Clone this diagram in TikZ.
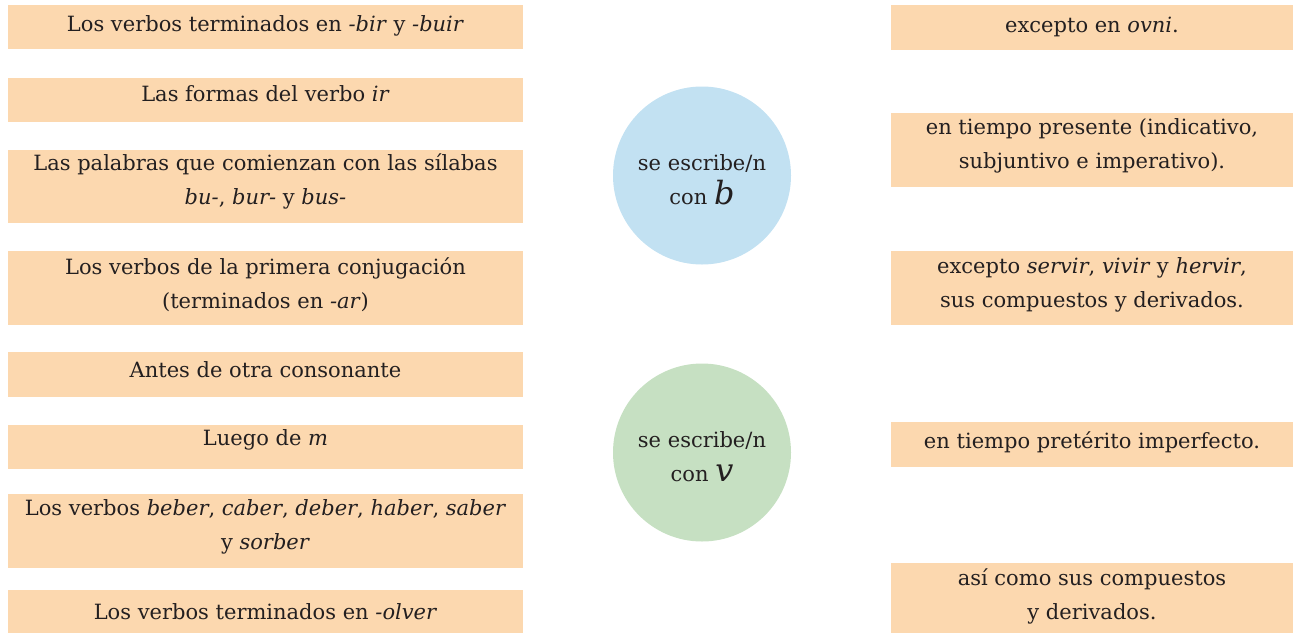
\documentclass[tikz,border=0pt]{standalone}
\usepackage{fontspec}
\setmainfont{DejaVu Serif}
\definecolor{peach}{HTML}{FCD8AF}
\definecolor{cblue}{HTML}{C2E1F2}
\definecolor{cgreen}{HTML}{C6E0C2}
\definecolor{ink}{HTML}{231F20}
\begin{document}
\begin{tikzpicture}[x=1pt,y=-1pt,
  lbox/.style={fill=peach,draw=none,minimum width=515pt,inner sep=0pt},
  rbox/.style={fill=peach,draw=none,minimum width=402pt,inner sep=0pt},
  circ/.style={circle,draw=none,minimum size=178pt,inner sep=0pt},
  txt/.style={inner sep=0pt,align=center,font=\fontsize{21}{34}\selectfont,text=ink}]
\useasboundingbox (0,0) rectangle (1293,633);
% left boxes
\node[lbox,minimum height=44pt] (l1) at (265.5,27) {};
\node[lbox,minimum height=44pt] (l2) at (265.5,100) {};
\node[lbox,minimum height=73pt] (l3) at (265.5,186.5) {};
\node[lbox,minimum height=74pt] (l4) at (265.5,288) {};
\node[lbox,minimum height=45pt] (l5) at (265.5,374.5) {};
\node[lbox,minimum height=44pt] (l6) at (265.5,447) {};
\node[lbox,minimum height=74pt] (l7) at (265.5,531) {};
\node[lbox,minimum height=43pt] (l8) at (265.5,611.5) {};
\node[txt] (l1t) at ([yshift=1pt]l1.center) {Los verbos terminados en \textit{-bir} y \textit{-buir}};
\node[txt] (l2t) at ([yshift=6pt]l2.center) {Las formas del verbo \textit{ir}};
\node[txt] (l3t) at ([yshift=5pt]l3.center) {Las palabras que comienzan con las sílabas\\\textit{bu-}, \textit{bur-} y \textit{bus-}};
\node[txt] (l4t) at ([yshift=3pt]l4.center) {Los verbos de la primera conjugación\\(terminados en \textit{-ar})};
\node[txt] (l5t) at ([yshift=5pt]l5.center) {Antes de otra consonante};
\node[txt] (l6t) at ([yshift=7pt]l6.center) {Luego de \textit{m}};
\node[txt] (l7t) at ([yshift=4pt]l7.center) {Los verbos \textit{beber}, \textit{caber}, \textit{deber}, \textit{haber}, \textit{saber}\\y \textit{sorber}};
\node[txt] (l8t) at (l8.center) {Los verbos terminados en \textit{-olver}};
% circles
\node[circ,fill=cblue] (cb) at (702,175.5) {};
\node[circ,fill=cgreen] (cv) at (702,452.5) {};
\node[txt] (cbt) at ([yshift=-4pt]cb.center) {se escribe/n\\con {\fontsize{32}{34}\selectfont\textit{b}}};
\node[txt] (cvt) at ([yshift=-4pt]cv.center) {se escribe/n\\con {\fontsize{32}{34}\selectfont\textit{v}}};
% right boxes
\node[rbox,minimum height=45pt] (r1) at (1092,27.5) {};
\node[rbox,minimum height=74pt] (r2) at (1092,150) {};
\node[rbox,minimum height=74pt] (r3) at (1092,288) {};
\node[rbox,minimum height=45pt] (r4) at (1092,444.5) {};
\node[rbox,minimum height=70pt] (r5) at (1092,598) {};
\node[txt] (r1t) at ([yshift=1pt]r1.center) {excepto en \textit{ovni}.};
\node[txt] (r2t) at ([yshift=4pt]r2.center) {en tiempo presente (indicativo,\\subjuntivo e imperativo).};
\node[txt] (r3t) at ([yshift=3pt]r3.center) {excepto \textit{servir}, \textit{vivir} y \textit{hervir},\\sus compuestos y derivados.};
\node[txt] (r4t) at ([yshift=2pt]r4.center) {en tiempo pretérito imperfecto.};
\node[txt] (r5t) at ([yshift=2pt]r5.center) {así como sus compuestos\\y derivados.};
\end{tikzpicture}
\end{document}
